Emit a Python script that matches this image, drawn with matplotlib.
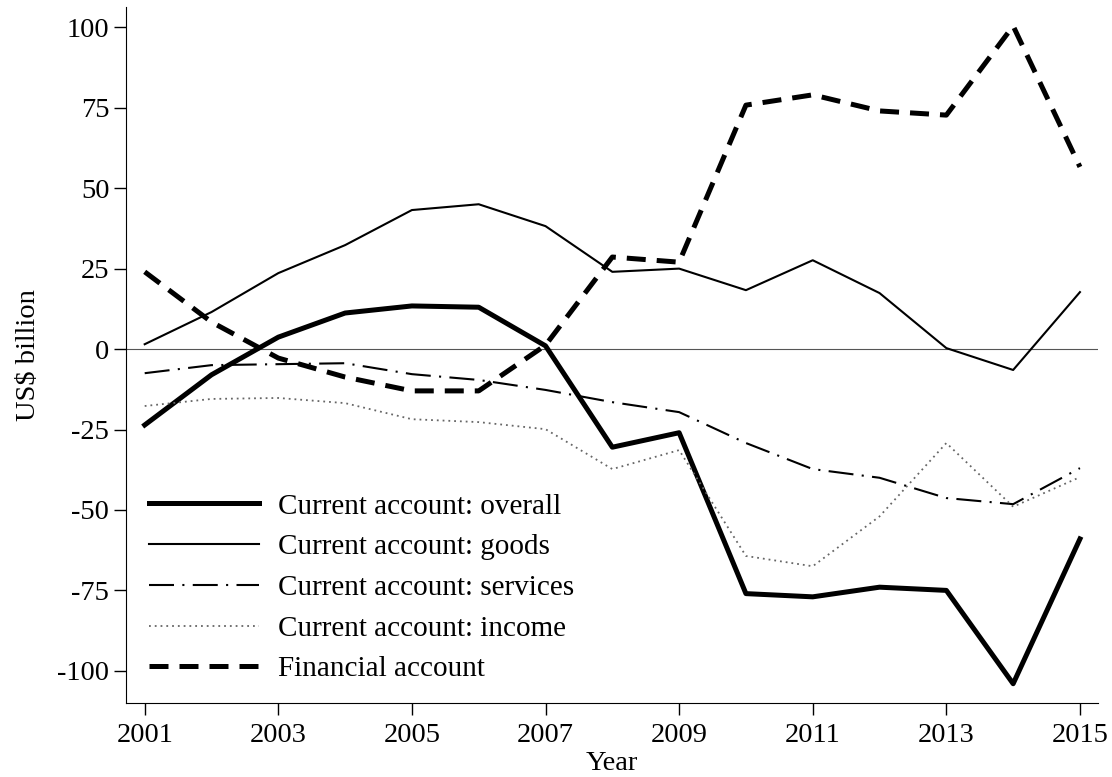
import matplotlib
matplotlib.use("Agg")
import matplotlib.pyplot as plt

years = list(range(2001, 2016))
overall = [-23.6, -8, 3.7, 11.2, 13.4, 13, 1, -30.5, -26, -76, -77, -74, -75, -104, -59]
goods = [1.5, 11.5, 23.6, 32.3, 43.2, 45, 38.2, 24, 25, 18.3, 27.6, 17.4, 0.3, -6.5, 17.7]
services = [-7.5, -5, -4.7, -4.4, -7.8, -9.6, -12.7, -16.5, -19.6, -29.2, -37.3, -40, -46.3, -48.2, -37]
income = [-17.7, -15.5, -15.2, -16.8, -21.8, -22.7, -24.9, -37.3, -31.4, -64.3, -67.5, -52, -29.2, -49, -39.8]
financial = [24, 8.4, -2.8, -8.7, -13, -13, 1.2, 28.6, 27, 75.8, 79, 74, 72.7, 100.4, 56.6]

plt.rcParams['font.family'] = ['Liberation Serif', 'DejaVu Serif']
plt.rcParams['font.size'] = 20.5
plt.rcParams['axes.unicode_minus'] = False

fig = plt.figure(figsize=(11.12, 7.77), dpi=100)
ax = fig.add_axes([0.1133, 0.0952, 0.8741, 0.8958])

ax.axhline(0, color='#555555', lw=0.8, zorder=1)
ax.plot(years, overall, color='black', lw=3.6, label='Current account: overall')
ax.plot(years, goods, color='black', lw=1.5, label='Current account: goods')
ax.plot(years, services, color='black', lw=1.5, dashes=(12, 4, 1, 4),
        label='Current account: services')
ax.plot(years, income, color='#666666', lw=1.3, dashes=(1, 2.2),
        label='Current account: income')
ax.plot(years, financial, color='black', lw=3.6, dashes=(3.8, 2.2),
        label='Financial account')

ax.set_xlim(2000.72, 2015.27)
ax.set_ylim(-110, 106.3)
ax.set_xticks(range(2001, 2016, 2))
ax.set_yticks([-100, -75, -50, -25, 0, 25, 50, 75, 100])
ax.spines['top'].set_visible(False)
ax.spines['right'].set_visible(False)
ax.tick_params(direction='out', length=8.5, width=1)
ax.tick_params(axis='x', pad=6)
ax.set_xlabel('Year', labelpad=2)
ax.set_ylabel('US\\$ billion', labelpad=12)

ax.legend(loc='lower left', bbox_to_anchor=(0.0114, 0.0128), frameon=False,
          fontsize=21, handlelength=3.77, handletextpad=0.65, labelspacing=0.49,
          borderaxespad=0)

plt.savefig('out.png', dpi=100)
